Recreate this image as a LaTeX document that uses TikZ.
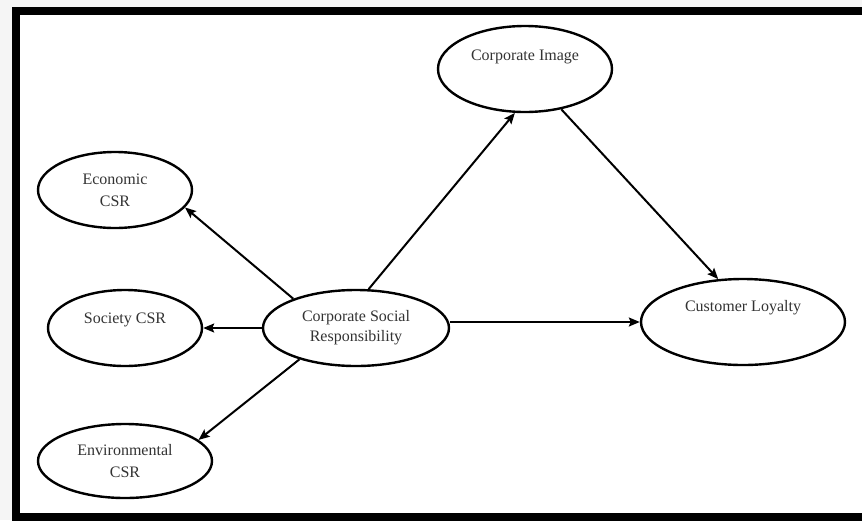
\documentclass[tikz,border=0pt]{standalone}
\usepackage{fontspec}
\setmainfont{Liberation Serif}
\usetikzlibrary{shapes.geometric,arrows.meta}
\begin{document}
\begin{tikzpicture}[x=1pt,y=-1pt,
  ell/.style={draw=black,line width=2.4pt,ellipse,inner sep=0pt,fill=white,
    text=black!80,font=\fontsize{16}{22}\selectfont,align=center},
  lbl/.style={text=black!80,font=\fontsize{16}{22}\selectfont},
  arr/.style={draw=black,line width=2pt,-{Stealth[length=11pt,width=9pt,inset=2pt]}}]
\useasboundingbox (0,0) rectangle (862,520);
% shadow and frame
\fill[black!4] (0,0) rectangle (862,520);
\fill[white] (16,11) rectangle (870,525);
\draw[line width=8pt] (16,11) -- (870,11);
\draw[line width=8pt] (16,7) -- (16,525);
\draw[line width=8pt] (12,517) -- (870,517);
% nodes
\node[ell,minimum width=174pt,minimum height=86pt,
  label={[lbl,yshift=12pt]center:Corporate Image}] (ci) at (525,69) {};
\node[ell,minimum width=154pt,minimum height=76pt] (eco) at (115,190) {Economic\\CSR};
\node[ell,minimum width=154pt,minimum height=76pt,
  label={[lbl,yshift=8pt]center:Society CSR}] (soc) at (125,328) {};
\node[ell,minimum width=174pt,minimum height=74pt] (env) at (125,461) {Environmental\\CSR};
\node[ell,minimum width=186pt,minimum height=76pt,
  font=\fontsize{16}{20}\selectfont] (csr) at (356,328) {Corporate Social\\Responsibility};
\node[ell,minimum width=204pt,minimum height=86pt,
  label={[lbl,yshift=14pt]center:Customer Loyalty}] (cl) at (743,322) {};
% connectors
\draw[arr] (csr.155) -- (eco.-14);
\draw[arr] (csr.west) -- (soc.east);
\draw[arr] (csr.209) -- (env.16);
\draw[arr] (csr.72) -- (ci.-103);
\draw[arr] (ci.-48) -- (cl.120);
\draw[arr] (csr.east |- cl.west) -- (cl.west);
\end{tikzpicture}
\end{document}
